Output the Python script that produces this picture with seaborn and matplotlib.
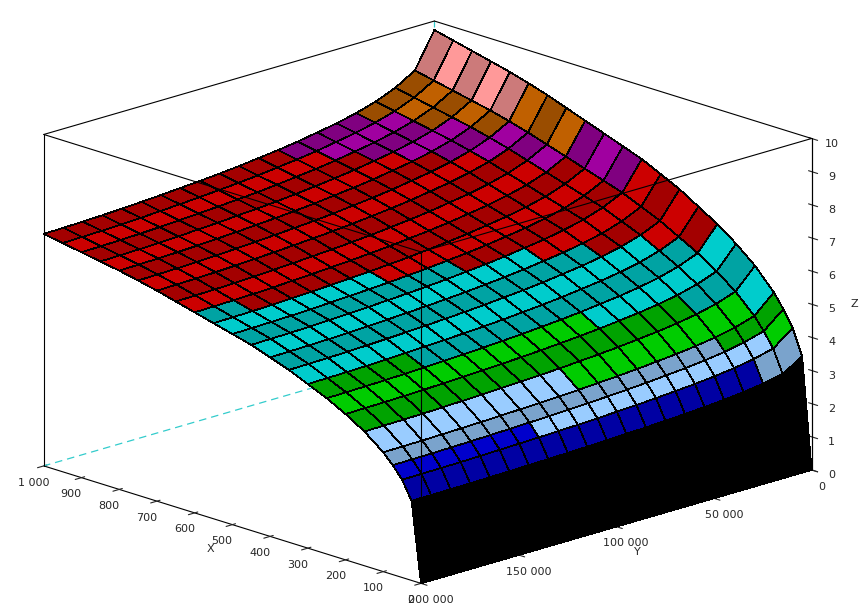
import numpy as np
import matplotlib
matplotlib.use("Agg")
import matplotlib.pyplot as plt
import seaborn as sns
from matplotlib.colors import to_rgb

sns.set_style("white")
plt.rcParams['font.family'] = ['DejaVu Sans']

x_pts = [0, 25, 50, 75, 100, 150, 200, 250, 300, 350, 400, 450, 500, 550, 600, 650, 700, 750, 800, 850, 900, 950, 1000]
z_along_x = [0.0, 2.4, 2.95, 3.3, 3.6, 4.05, 4.4, 4.7, 4.95, 5.2, 5.4, 5.6, 5.75, 5.9, 6.05, 6.2, 6.35, 6.48, 6.6, 6.7, 6.8, 6.9, 7.0]
y_pts = [0, 10000, 20000, 30000, 40000, 50000, 60000, 70000, 80000, 90000, 100000,
         110000, 120000, 130000, 140000, 150000, 160000, 170000, 180000, 190000, 200000]
y_factor = [1.39, 1.24, 1.19, 1.155, 1.13, 1.11, 1.095, 1.08, 1.068, 1.058, 1.048,
            1.04, 1.033, 1.027, 1.021, 1.016, 1.011, 1.007, 1.004, 1.002, 1.0]
z_levels = [0, 2.6, 3.2, 4.0, 4.9, 6.0, 7.4, 7.9, 8.5, 9.3, 10.5]
level_colors = ["#000000", "#0000CC", "#99CCFF", "#00CC00", "#00CCCC", "#CC0000",
                "#A000A0", "#C06000", "#FF9999", "#FFD700"]

X, Y = np.meshgrid(np.array(x_pts, float), np.array(y_pts, float), indexing="ij")
Z = np.outer(z_along_x, y_factor)

nx, ny = Z.shape
fc = np.zeros((nx, ny, 4))
for i in range(nx):
    for j in range(ny):
        ii, jj = min(i, nx - 2), min(j, ny - 2)
        zc = Z[ii:ii + 2, jj:jj + 2].mean()
        k = np.searchsorted(z_levels, zc, side="right") - 1
        k = int(np.clip(k, 0, len(level_colors) - 1))
        c = np.array(to_rgb(level_colors[k]))
        if ii % 2 == 1:
            c = c * 0.8
        fc[i, j, :3] = c
        fc[i, j, 3] = 1

fig = plt.figure(figsize=(8.59, 6.03), dpi=100)
ax = fig.add_axes([-0.211, -0.198, 1.392, 1.357], projection="3d")
ax.set_proj_type("ortho")
ax.computed_zorder = False

xmin, xmax = 0, 1000
ymin, ymax = 0, 200000
zmin, zmax = 0, 10

d = dict(color="#33CCCC", lw=0.9, ls=(0, (6, 4)), clip_on=False, zorder=1)
ax.plot([xmax, xmax], [ymin, ymin], [zmin, zmax], **d)
ax.plot([xmax, xmax], [ymin, ymax], [zmin, zmin], **d)
ax.plot([xmin, xmax], [ymin, ymin], [zmin, zmin], **d)

ax.plot_surface(X, Y, Z, facecolors=fc, edgecolor="black", linewidth=0.5,
                shade=False, antialiased=False, rstride=1, cstride=1, zorder=2)

ax.set_xlim(xmin, xmax); ax.set_ylim(ymin, ymax); ax.set_zlim(zmin, zmax)
ax.view_init(elev=17.5, azim=136)
ax.set_box_aspect((1, 1, 0.64))

k = dict(color="black", lw=0.8, clip_on=False, zorder=3)
ax.plot([xmax, xmax], [ymin, ymax], [zmax, zmax], **k)
ax.plot([xmin, xmax], [ymin, ymin], [zmax, zmax], **k)
ax.plot([xmin, xmax], [ymax, ymax], [zmax, zmax], **k)
ax.plot([xmin, xmin], [ymin, ymax], [zmax, zmax], **k)
ax.plot([xmin, xmin], [ymin, ymin], [zmin, zmax], **k)
ax.plot([xmin, xmin], [ymax, ymax], [zmin, zmax], **k)
ax.plot([xmax, xmax], [ymax, ymax], [zmin, zmax], **k)

ax.set_xticks(range(0, 1001, 100))
ax.set_xticklabels(["0", "100", "200", "300", "400", "500", "600", "700", "800", "900", "1 000"])
ax.set_yticks([0, 50000, 100000, 150000, 200000])
ax.set_yticklabels(["0", "50 000", "100 000", "150 000", "200 000"])
ax.set_zticks(range(0, 11))
for a in (ax.xaxis, ax.yaxis, ax.zaxis):
    a.pane.fill = False
    a.pane.set_edgecolor("none")
    a._axinfo["grid"]["color"] = (1, 1, 1, 0)
    a.line.set_color("black")
ax.grid(False)
ax.tick_params(labelsize=8, pad=0)
ax.set_xlabel("X", fontsize=8, labelpad=-4)
ax.set_ylabel("Y", fontsize=8, labelpad=-4)
ax.set_zlabel("Z", fontsize=8, labelpad=-4)

fig.savefig("out.png", dpi=100)
